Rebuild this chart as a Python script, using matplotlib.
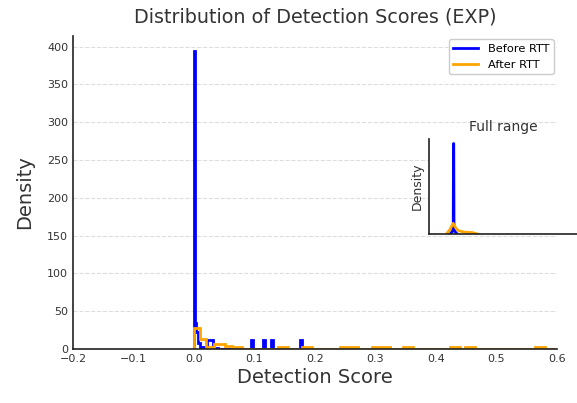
import matplotlib
matplotlib.use("Agg")
import matplotlib.pyplot as plt

# main histogram (density): bin edges + heights
before_edges = [0.0, 0.002, 0.004, 0.006, 0.010, 0.021, 0.031, 0.040,
                0.095, 0.098, 0.114, 0.117, 0.127, 0.130, 0.175, 0.178]
before_vals = [394, 34, 22, 8, 2, 12, 1, 0, 12, 0, 12, 0, 12, 0, 12]

after_edges = [0.0, 0.010, 0.020, 0.033, 0.051, 0.063, 0.080, 0.139, 0.155,
               0.178, 0.195, 0.241, 0.271, 0.294, 0.324, 0.345, 0.362,
               0.423, 0.440, 0.448, 0.464, 0.564, 0.580, 0.600]
after_vals = [28, 13, 3, 6, 4, 2, 0.5, 3, 0.5, 3, 0, 2.5, 0, 2.5, 0, 2.5, 0,
              2.5, 0, 2.5, 0, 2.5, 0]

# inset "Full range" curves
inset_before_x = [-0.03, -0.01, -0.003, -0.001, 0.001, 0.003, 0.01, 0.03]
inset_before_y = [0, 12, 30, 400, 400, 30, 12, 0]
inset_after_x = [-0.06, -0.03, -0.004, 0.02, 0.04, 0.09, 0.15, 0.2]
inset_after_y = [0, 20, 48, 25, 15, 9, 7, 0]

fig = plt.figure(figsize=(5.77, 4.03), dpi=100)
ax = fig.add_axes([0.1265, 0.134, 0.8388, 0.7767])

ax.stairs(before_vals, before_edges, color="blue", lw=2, label="Before RTT")
ax.stairs(after_vals, after_edges, color="orange", lw=2, label="After RTT")

ax.set_xlim(-0.2, 0.6)
ax.set_ylim(0, 414)
ax.set_yticks(range(0, 401, 50))
ax.tick_params(length=0, labelsize=8, colors="#333333")
ax.grid(axis="y", ls="--", color="#dddddd", lw=0.8)
ax.set_axisbelow(True)
for s in ["top", "right"]:
    ax.spines[s].set_visible(False)
for s in ["left", "bottom"]:
    ax.spines[s].set_color("#222222")
    ax.spines[s].set_linewidth(1.2)

ax.set_title("Distribution of Detection Scores (EXP)", fontsize=13.8, color="#333333", pad=10)
ax.set_xlabel("Detection Score", fontsize=14, color="#333333", labelpad=3)
ax.set_ylabel("Density", fontsize=14, color="#333333", labelpad=9)
ax.legend(loc="upper right", fontsize=8.2, framealpha=1, edgecolor="#cccccc",
          handlelength=2.2, borderaxespad=0.3)

# inset
ins = fig.add_axes([0.7435, 0.419, 0.256, 0.236])
ins.plot(inset_before_x, inset_before_y, color="blue", lw=2)
ins.plot(inset_after_x, inset_after_y, color="orange", lw=2)
ins.set_xlim(-0.2, 1.0)
ins.set_ylim(0, 420)
ins.set_xticks([])
ins.set_yticks([])
for s in ["top", "right"]:
    ins.spines[s].set_visible(False)
for s in ["left", "bottom"]:
    ins.spines[s].set_color("#222222")
    ins.spines[s].set_linewidth(1.2)
ins.set_title("Full range", fontsize=10, color="#333333")
ins.set_ylabel("Density", fontsize=9, color="#333333")

fig.savefig("out.png", dpi=100)
